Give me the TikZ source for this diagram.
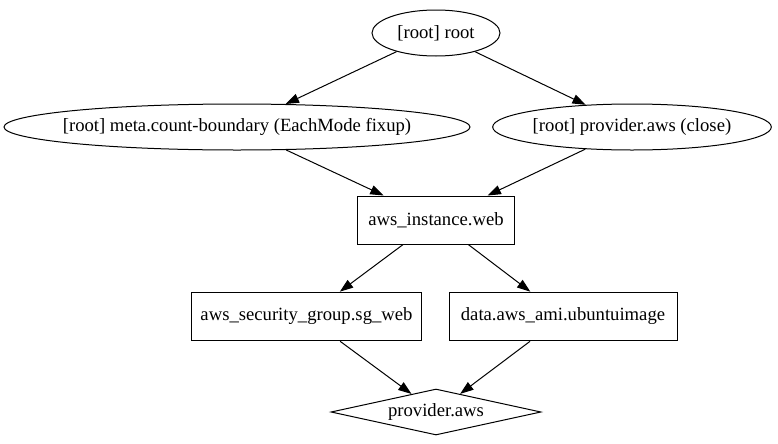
\documentclass[tikz,border=0pt]{standalone}
\usepackage{fontspec}
\setmainfont{Liberation Serif}
\usepackage{tikz}
\usetikzlibrary{shapes.geometric,arrows.meta}

\newcommand{\nowidth}[1]{\makebox[0pt]{#1}}

\begin{document}
\begin{tikzpicture}[x=0.75pt, y=-0.75pt,
    every node/.style={font=\fontsize{14}{16}\selectfont, inner sep=0pt, line width=0.75pt},
    oval/.style={draw, ellipse, minimum height=34.5pt},
    box/.style={draw, rectangle, minimum height=36.5pt},
    dep/.style={draw, line width=0.75pt, -{Triangle[length=10pt,width=7pt]}}]
          \useasboundingbox (0,0) rectangle (778,443);
          \node[oval, minimum width=96pt] (root) at (436,33) {\nowidth{[root] root}};
          \node[oval, minimum width=349.5pt] (meta) at (237,127) {\nowidth{[root] meta.count-boundary (EachMode fixup)}};
          \node[oval, minimum width=209pt] (close) at (632,127) {\nowidth{[root] provider.aws (close)}};
          \node[box, minimum width=118pt, minimum height=36pt] (web) at (436,220) {aws\_instance.web};
          \node[box, minimum width=172pt] (sg) at (306.5,316.5) {aws\_security\_group.sg\_web};
          \node[box, minimum width=171pt] (ami) at (563,316.5) {data.aws\_ami.ubuntuimage};
          \node[draw, diamond, minimum width=157.5pt, minimum height=34.5pt] (prov) at (436,412) {\nowidth{provider.aws}};
          \draw[dep] (root) -- (meta);
          \draw[dep] (root) -- (close);
          \draw[dep] (meta) -- (web);
          \draw[dep] (close) -- (web);
          \draw[dep] (web) -- (sg);
          \draw[dep] (web) -- (ami);
          \draw[dep] (sg) -- (prov);
          \draw[dep] (ami) -- (prov);
        \end{tikzpicture}
\end{document}
